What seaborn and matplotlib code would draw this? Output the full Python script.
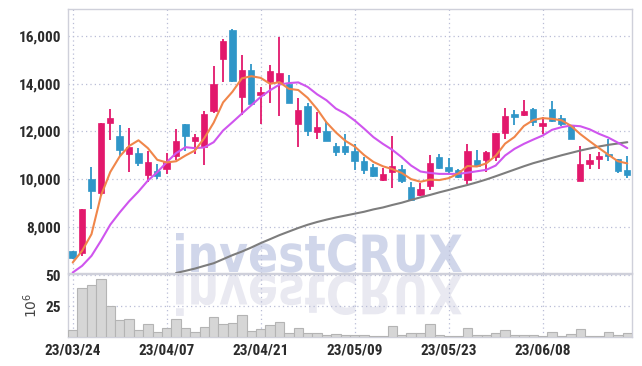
import numpy as np
import pandas as pd
import matplotlib
matplotlib.use('Agg')
import matplotlib.pyplot as plt
import seaborn as sns
from matplotlib import font_manager
from matplotlib.textpath import TextPath
from matplotlib.patches import PathPatch
from matplotlib.font_manager import FontProperties
from matplotlib.transforms import Affine2D

# tick labels (every 10th trading day)
tick_pos = [0, 10, 20, 30, 40, 50]
tick_dates = ['23/03/24', '23/04/07', '23/04/21', '23/05/09', '23/05/23', '23/06/08']

# daily OHLC (won)
opens = [6990, 6920, 10010, 9420, 12350, 11790, 11050, 11080, 10180, 10350,
         10410, 10990, 12300, 11590, 11340, 12860, 15030, 16250, 13450, 14570,
         13530, 14060, 14060, 14010, 12310, 13050, 11970, 12000, 11410, 11370,
         11160, 10740, 10490, 9970, 10290, 10430, 9690, 9350, 9700, 10910,
         10490, 10400, 9980, 10820, 10810, 10920, 11950, 12730, 12690, 12930,
         12220, 12930, 12580, 12280, 9940, 10650, 10860, 11060, 10840, 10400]
highs = [7000, 8750, 10500, 12370, 12960, 12280, 12160, 11300, 11160, 10640,
         11100, 12120, 12300, 11900, 12860, 14750, 15870, 16280, 15200, 14820,
         13870, 14810, 15950, 14360, 13420, 13210, 12810, 12460, 11510, 11900,
         11480, 10920, 10640, 10460, 11790, 10610, 9870, 9820, 11020, 11060,
         10890, 10410, 11480, 11230, 11200, 11950, 13000, 12910, 13310, 13000,
         12600, 13260, 12700, 12290, 11370, 11060, 11120, 11690, 10840, 10990]
lows = [6660, 6780, 8750, 9350, 11650, 10990, 10290, 10540, 9870, 10010,
        10220, 10810, 11170, 11060, 10610, 12790, 14080, 14080, 12700, 13140,
        12330, 13210, 12650, 13190, 11340, 11800, 11690, 11620, 10960, 11030,
        10400, 10220, 10080, 9940, 9630, 9820, 9100, 9280, 9550, 10430,
        10220, 10060, 9800, 10560, 10290, 10780, 11690, 12280, 12630, 12250,
        11900, 12390, 12220, 11690, 9940, 10430, 10430, 10780, 10260, 10050]
closes = [6710, 8750, 9490, 12370, 12550, 11240, 11330, 10670, 10700, 10120,
          10710, 11580, 11830, 11760, 12720, 13980, 15800, 14110, 14570, 13140,
          13660, 14530, 14460, 13190, 12890, 12010, 12170, 11620, 11130, 11130,
          10780, 10400, 10150, 10220, 10570, 9940, 9140, 9600, 10670, 10460,
          10360, 10080, 11200, 10560, 11130, 11950, 12630, 12600, 12840, 12390,
          12340, 12460, 12330, 11690, 10650, 10820, 10990, 10950, 10360, 10190]

# moving average lines
ma5 = [6500, 6990, 7690, 9300, 10300, 10950, 11390, 11630, 11300, 10810,
       10700, 10750, 10990, 11200, 11720, 12370, 13220, 13670, 14230, 14320,
       14250, 14000, 14070, 13790, 13740, 13410, 12940, 12380, 11960, 11610,
       11370, 11010, 10720, 10540, 10420, 10260, 10000, 9890, 9980, 9960,
       10040, 10230, 10550, 10530, 10660, 10980, 11490, 11770, 12230, 12480,
       12560, 12530, 12470, 12240, 11890, 11590, 11300, 11020, 10750, 10660]
ma20 = [6080, 6360, 6780, 7410, 8090, 8600, 9070, 9480, 9940, 10290,
        10710, 11090, 11340, 11300, 11330, 11550, 12040, 12390, 12750, 13100,
        13450, 13730, 13970, 14030, 14060, 13870, 13560, 13310, 12960, 12750,
        12460, 12120, 11760, 11480, 11230, 10920, 10570, 10320, 10260, 10220,
        10220, 10220, 10270, 10330, 10390, 10570, 10990, 11270, 11480, 11660,
        11830, 12070, 12180, 12250, 12220, 12090, 11900, 11740, 11530, 11300]
ma_long = [np.nan] * 11 + [
    6060, 6150, 6245, 6360, 6470, 6640, 6810, 6960, 7130,
    7315, 7480, 7650, 7800, 7950, 8085, 8200, 8300, 8390, 8470,
    8550, 8630, 8730, 8810, 8915, 9010, 9125, 9235, 9335, 9445,
    9545, 9655, 9755, 9865, 9985, 10120, 10260, 10400, 10540, 10670,
    10780, 10890, 11000, 11100, 11200, 11285, 11370, 11440, 11495, 11550]

# volume (millions of shares)
volume = [6.4, 40, 41.8, 47, 25, 14.4, 15.2, 6.4, 11.2, 4.2,
          8, 15.2, 8, 4.8, 8.5, 16.8, 11.2, 12, 18.4, 5.6,
          7.2, 10.4, 12.8, 4, 8, 4, 4, 2.4, 3.2, 2.4,
          2.4, 2.4, 1.3, 1.3, 9, 2.4, 4, 4, 10.6, 2.4,
          1.3, 1.3, 8, 2.4, 2.4, 4, 6.4, 2.4, 2.4, 2.4,
          1.3, 4.5, 1.3, 2.6, 7.2, 1.3, 1.3, 4.8, 1.9, 4]

df = pd.DataFrame({'idx': np.arange(len(closes)), 'open': opens, 'high': highs,
                   'low': lows, 'close': closes, 'ma5': ma5, 'ma20': ma20,
                   'ma_long': ma_long, 'volume': volume})

sns.set_style('white')
plt.rcParams['font.family'] = ['DejaVu Sans']

# pick a narrow bold face for the tick labels if one is installed
names = {f.name for f in font_manager.fontManager.ttflist}
condensed = [f for f in font_manager.fontManager.ttflist
             if f.name == 'DejaVu Sans' and 'condensed' in str(f.stretch)]
tick_font = None
for nm in ['Roboto Condensed', 'Liberation Sans Narrow', 'Open Sans Condensed']:
    if nm in names:
        tick_font = FontProperties(family=nm, weight='bold', size=11)
        break
if tick_font is None:
    if condensed:
        tick_font = FontProperties(family='DejaVu Sans', stretch='condensed', weight='bold', size=10)
    else:
        tick_font = FontProperties(family='DejaVu Sans', weight='bold', size=9)

UP = '#e2186c'
DOWN = '#2f96c8'
GRID = '#b9bdd6'
SPINE = '#cfd0da'
TXT = '#2b2b2b'

fig = plt.figure(figsize=(6.42, 3.66), dpi=100)
fig.patch.set_facecolor('white')
ax = fig.add_axes([0.1059, 0.2541, 0.8785, 0.7213])
axv = fig.add_axes([0.1059, 0.0779, 0.8785, 0.1735])
for a in (ax, axv):
    a.set_facecolor('none')

# watermark with reflection (drawn behind the axes)
fp = FontProperties(family='DejaVu Sans', weight='bold')
tp = TextPath((0, 0), 'investCRUX', size=1, prop=fp)
ext = tp.get_extents()
H = 366
sx = (462 - 176) / ext.width
sy = (272 - 233) / ext.y1
wm = Affine2D().translate(-ext.x0, 0).scale(sx, sy).translate(176, H - 272)
wm_ref = Affine2D().translate(-ext.x0, 0).scale(sx, -sy * 1.05).translate(176, H - 275)
fig.patches.append(PathPatch(tp, transform=wm, facecolor='#d0d6ea', edgecolor='none', zorder=-5))
fig.patches.append(PathPatch(tp, transform=wm_ref, facecolor='#e9e9f1', edgecolor='none', zorder=-5))

# candles
up = df['close'] >= df['open']
colors = np.where(up, UP, DOWN)
ax.vlines(df['idx'], df['low'], df['high'], colors=colors, linewidth=1.3, zorder=3)
ax.bar(df['idx'], (df['close'] - df['open']).abs(), bottom=df[['open', 'close']].min(axis=1),
       width=0.68, color=colors, edgecolor=colors, linewidth=0.5, zorder=4)

# moving averages
sns.lineplot(data=df, x='idx', y='ma_long', ax=ax, color='#7d7d7d', linewidth=1.5, zorder=5)
sns.lineplot(data=df, x='idx', y='ma20', ax=ax, color='#cf55ee', linewidth=1.5, zorder=5)
sns.lineplot(data=df, x='idx', y='ma5', ax=ax, color='#f0864a', linewidth=1.5, zorder=6)

ax.set_xlim(-0.5, 59.5)
ax.set_ylim(6060, 17140)
ax.set_yticks([8000, 10000, 12000, 14000, 16000])
ax.set_yticklabels([f'{v:,}' for v in [8000, 10000, 12000, 14000, 16000]])
ax.set_xticks(tick_pos)
ax.set_xticklabels([])
ax.set_xlabel('')
ax.set_ylabel('')

# volume bars
sns.barplot(data=df, x='idx', y='volume', ax=axv, color='#d6d6d6', edgecolor='#b4b4b4',
            linewidth=0.8, width=1.0, saturation=1, zorder=3)
axv.set_xlim(-0.5, 59.5)
axv.set_ylim(0, 51)
axv.set_yticks([25, 50])
axv.set_xticks(tick_pos)
axv.set_xticklabels(tick_dates)
axv.set_xlabel('')
axv.set_ylabel('$10^6$', fontsize=10, color='#444444')
axv.yaxis.set_label_coords(-0.05, 0.5)

for a in (ax, axv):
    a.grid(True, linestyle=(0, (1, 2.5)), color=GRID, linewidth=0.9, zorder=0)
    a.set_axisbelow(True)
    for s in a.spines.values():
        s.set_color(SPINE)
        s.set_linewidth(1.0)
    a.tick_params(length=0, pad=5, labelcolor=TXT)
    for lab in a.get_yticklabels() + a.get_xticklabels():
        lab.set_fontproperties(tick_font)
axv.tick_params(axis='x', pad=4)

fig.savefig('out.png', dpi=100, facecolor='white')
